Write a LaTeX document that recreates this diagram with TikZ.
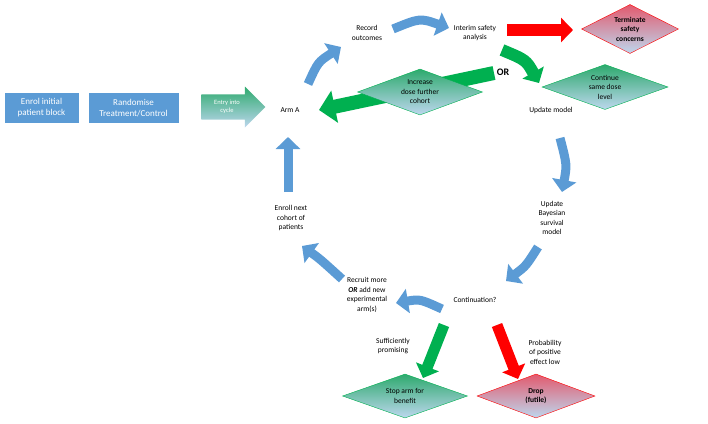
\documentclass[tikz,border=0pt]{standalone}
\usepackage{fontspec}
\setmainfont{Carlito}
\usetikzlibrary{arrows.meta,shapes.geometric,shapes.arrows}
\definecolor{boxblue}{RGB}{91,155,213}
\definecolor{paleblue}{RGB}{189,215,238}
\definecolor{okgreen}{RGB}{0,176,80}
\definecolor{dmgreen}{RGB}{46,170,110}
\definecolor{dmred}{RGB}{226,90,110}
\tikzset{
  lbl/.style={align=center,font=\fontsize{7.5}{9.5}\selectfont,inner sep=1pt},
  blk/.style={draw=boxblue,fill=boxblue,text=white,align=center,
    font=\fontsize{9}{11}\selectfont,minimum height=29pt,inner sep=2pt},
  dm/.style={diamond,aspect=2.7,align=center,inner sep=0pt,
    font=\fontsize{7.5}{9.5}\selectfont,top color=#1,bottom color=paleblue},
  gdm/.style={dm=dmgreen,draw=okgreen},
  rdm/.style={dm=dmred,draw=red},
  bar/.style={line width=#1,-{Triangle[length=12pt,width=24pt]}},
  barb/.style={bar=9pt,draw=boxblue},
}
\begin{document}
\begin{tikzpicture}[x=1pt,y=-1pt]
\useasboundingbox (0,0) rectangle (708,423);

% start boxes
\node[blk,minimum width=73pt] (enrol) at (41.5,108) {Enrol initial\\patient block};
\node[blk,minimum width=89pt] (rand) at (133.5,108) {Randomise\\Treatment/Control};
\node[single arrow,single arrow head extend=5pt,minimum width=41pt,minimum height=64pt,
  top color=dmgreen,bottom color=paleblue,draw=none,text=white,align=center,
  font=\fontsize{6.5}{8}\selectfont,inner sep=1pt] (entry) at (227,107) {Entry into\\cycle};

% cycle texts
\node[lbl] (arm) at (290,110) {Arm A};
\node[lbl] (rec) at (367,33) {Record\\outcomes};
\node[lbl] (isa) at (475,33) {Interim safety\\analysis};
\node[lbl] (upd) at (551,110) {Update model};
\node[lbl] (bay) at (552,218) {Update\\Bayesian\\survival\\model};
\node[lbl] (cont) at (475,300) {Continuation?};
\node[lbl] (recr) at (367,295) {Recruit more\\\textbf{\textit{OR}} add new\\experimental\\arm(s)};
\node[lbl] (nxt) at (291,218) {Enroll next\\cohort of\\patients};
\node[lbl] (suff) at (393,346) {Sufficiently\\promising};
\node[lbl] (prob) at (545,352) {Probability\\of positive\\effect low};
\node[font=\fontsize{10}{12}\selectfont\bfseries,inner sep=0pt] (or) at (503,72) {OR};

% arrow ends
\coordinate (a1) at (308,84);   \coordinate (a2) at (341,47);
\coordinate (b1) at (393,29);   \coordinate (b2) at (449,28);
\coordinate (c1) at (507,30);   \coordinate (c2) at (573,30);
\coordinate (d1) at (502,50);   \coordinate (d2) at (539,83);
\coordinate (e1) at (494,73);   \coordinate (e2) at (319,110);
\coordinate (f1) at (560,138);  \coordinate (f2) at (562,192);
\coordinate (g1) at (538,247);  \coordinate (g2) at (506,281);
\coordinate (h1) at (442,309);  \coordinate (h2) at (396,303);
\coordinate (i1) at (342,279);  \coordinate (i2) at (302,246);
\coordinate (j1) at (288,192);  \coordinate (j2) at (288,137);
\coordinate (k1) at (444,325);  \coordinate (k2) at (423,378);
\coordinate (l1) at (497,325);  \coordinate (l2) at (518,379);

% block arrows
\draw[barb] (a1) .. controls (318,62) .. (a2);
\draw[barb] (b1) .. controls (420,18) .. (b2);
\draw[bar=12pt,draw=red] (c1) -- (c2);
\draw[bar=12pt,draw=okgreen] (d1) .. controls (526,60) .. (d2);
\draw[bar=14pt,draw=okgreen,-{Triangle[length=16pt,width=32pt]}] (e1) -- (e2);
\draw[barb] (f1) .. controls (567,165) .. (f2);
\draw[barb] (g1) .. controls (526,266) .. (g2);
\draw[barb] (h1) .. controls (420,299) .. (h2);
\draw[barb] (i1) .. controls (320,259) .. (i2);
\draw[barb] (j1) -- (j2);
\draw[bar=11pt,draw=okgreen] (k1) -- (k2);
\draw[bar=11pt,draw=red] (l1) -- (l2);

% decisions
\node[rdm,minimum width=94pt,minimum height=49pt,font=\fontsize{7.5}{9.5}\selectfont\bfseries] (term) at (630,29) {Terminate\\safety\\concerns};
\node[gdm,minimum width=126pt,minimum height=45pt] (same) at (605,87) {Continue\\same dose\\level};
\node[gdm,minimum width=125pt,minimum height=46pt] (inc) at (420,92) {Increase\\dose further\\cohort};
\node[gdm,minimum width=125pt,minimum height=44pt] (stop) at (405,396) {Stop arm for\\benefit};
\node[rdm,minimum width=118pt,minimum height=44pt,font=\fontsize{7.5}{9.5}\selectfont\bfseries] (drop) at (536,396) {Drop\\(futile)};
\end{tikzpicture}
\end{document}
